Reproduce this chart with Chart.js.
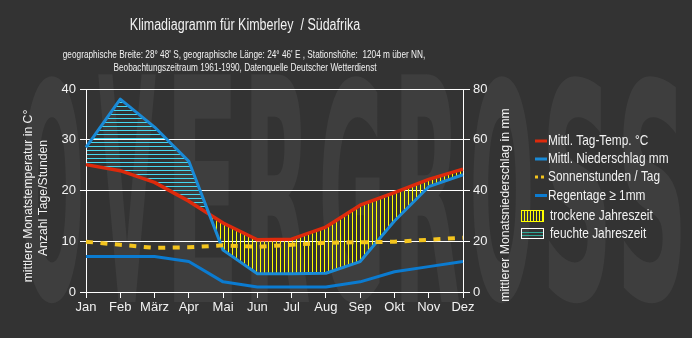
<!DOCTYPE html>
<html lang="de">
<head>
<meta charset="utf-8">
<title>Klimadiagramm Kimberley</title>
<script src="https://cdn.jsdelivr.net/npm/chart.js@4.4.1/dist/chart.umd.min.js"></script>
<style>
    html, body { margin: 0; padding: 0; background: #333333; }
    #wrap { width: 692px; height: 338px; }
</style>
</head>
<body>
<div id="wrap"><canvas id="klima" width="692" height="338"></canvas></div>
<script>
"use strict";

// Monatswerte
const months = ['Jan', 'Feb', 'März', 'Apr', 'Mai', 'Jun', 'Jul', 'Aug', 'Sep', 'Okt', 'Nov', 'Dez'];
const tempC = [25.1, 23.9, 21.6, 17.9, 13.6, 10.3, 10.4, 12.8, 17.1, 19.6, 22.2, 24.2];
const precipMm = [57, 76, 65, 51.5, 16.5, 7.2, 7.2, 7.4, 12, 28, 41.5, 46.2];
const sunHours = [9.9, 9.3, 8.7, 8.8, 9.2, 8.9, 9.3, 9.7, 9.8, 9.9, 10.3, 10.7];
const rainDays = [7, 7, 7, 6, 2, 1, 1, 1, 2, 4, 5, 6];

const leftTicks = [0, 10, 20, 30, 40];
const rightTicks = [0, 20, 40, 60, 80];

const titleText = 'Klimadiagramm für Kimberley  / Südafrika';
const subLines = [
    "geographische Breite: 28° 48' S, geographische Länge: 24° 46' E , Stationshöhe:  1204 m über NN,",
    'Beobachtungszeitraum 1961-1990, Datenquelle Deutscher Wetterdienst'
];
const leftTitle = ['mittlere Monatstemperatur in C°', 'Anzahl Tage/Stunden'];
const rightTitle = 'mittlerer Monatsniederschlag in mm';
const legendItems = [
    { text: 'Mittl. Tag-Temp. °C', color: '#dd2a0c', dash: [] },
    { text: 'Mittl. Niederschlag mm', color: '#1a8ad6', dash: [] },
    { text: 'Sonnenstunden / Tag', color: '#f3c41e', dash: [3, 3] },
    { text: 'Regentage ≥ 1mm', color: '#0b7bd0', dash: [] }
];
const watermark = 'OVERGROSS';

const FONT = '"Liberation Sans", Arial, sans-serif';
const TEXT_COLOR = '#f2f2f2';
const HUMID_COLOR = '#44d8f0';
const DRY_COLOR = '#ffff00';

/**
 * Text mit horizontaler Stauchung zeichnen
 */
function drawText(ctx, text, x, y, size, sx, align, rot) {
    ctx.save();
    ctx.translate(x, y);
    if (rot) ctx.rotate(rot);
    ctx.scale(sx, 1);
    ctx.font = size + 'px ' + FONT;
    ctx.textAlign = align;
    ctx.textBaseline = 'middle';
    ctx.fillStyle = TEXT_COLOR;
    ctx.fillText(text, 0, 0);
    ctx.restore();
}

// Hintergrund und Wasserzeichen
const backgroundPlugin = {
    id: 'background',
    beforeDraw(chart) {
        const ctx = chart.ctx;
        ctx.save();
        ctx.fillStyle = '#333333';
        ctx.fillRect(0, 0, chart.width, chart.height);

        ctx.font = 'bold 100px "DejaVu Sans", sans-serif';
        ctx.fillStyle = '#3e3e3e';
        ctx.textAlign = 'center';
        ctx.textBaseline = 'alphabetic';
        const pitch = 75;
        const boxW = 58;
        const boxH = 228;
        for (let i = 0; i < watermark.length; i++) {
            const ch = watermark[i];
            const m = ctx.measureText(ch);
            const gw = m.actualBoundingBoxLeft + m.actualBoundingBoxRight;
            const gh = m.actualBoundingBoxAscent + m.actualBoundingBoxDescent;
            ctx.save();
            ctx.translate(52 + i * pitch, 302);
            ctx.scale(boxW / gw, boxH / gh);
            ctx.fillText(ch, 0, -m.actualBoundingBoxDescent);
            ctx.restore();
        }
        ctx.restore();
    }
};

// feuchte / trockene Jahreszeit zwischen Temperatur- und Niederschlagskurve schraffieren
const seasonPlugin = {
    id: 'seasons',
    beforeDatasetsDraw(chart) {
        const ctx = chart.ctx;
        const area = chart.chartArea;
        const t = chart.getDatasetMeta(0).data;
        const p = chart.getDatasetMeta(1).data;

        const between = () => {
            ctx.beginPath();
            t.forEach((pt, i) => (i ? ctx.lineTo(pt.x, pt.y) : ctx.moveTo(pt.x, pt.y)));
            for (let i = p.length - 1; i >= 0; i--) ctx.lineTo(p[i].x, p[i].y);
            ctx.closePath();
        };
        const side = (edgeY) => {
            ctx.beginPath();
            t.forEach((pt, i) => (i ? ctx.lineTo(pt.x, pt.y) : ctx.moveTo(pt.x, pt.y)));
            ctx.lineTo(area.right, edgeY);
            ctx.lineTo(area.left, edgeY);
            ctx.closePath();
        };

        // feucht: Niederschlag über Temperatur
        ctx.save();
        between();
        ctx.clip();
        side(area.top);
        ctx.clip();
        ctx.fillStyle = HUMID_COLOR;
        for (let y = Math.floor(area.top) + 1; y < area.bottom; y += 4) {
            ctx.fillRect(area.left + 1, y, area.right - area.left - 2, 1);
        }
        ctx.restore();

        // trocken: Niederschlag unter Temperatur
        ctx.save();
        between();
        ctx.clip();
        side(area.bottom);
        ctx.clip();
        ctx.fillStyle = DRY_COLOR;
        for (let x = Math.floor(area.left) + 2; x < area.right; x += 4) {
            ctx.fillRect(x, area.top, 1, area.bottom - area.top);
        }
        ctx.restore();
    }
};

// Titel, Achsentitel und Legende
const textPlugin = {
    id: 'texts',
    afterDraw(chart) {
        const ctx = chart.ctx;
        drawText(ctx, titleText, 245, 26, 16, 0.78, 'center');
        drawText(ctx, subLines[0], 244, 55, 11, 0.75, 'center');
        drawText(ctx, subLines[1], 245, 68, 11, 0.75, 'center');

        drawText(ctx, leftTitle[0], 28, 196, 13, 0.94, 'center', -Math.PI / 2);
        drawText(ctx, leftTitle[1], 43, 198, 13, 0.94, 'center', -Math.PI / 2);
        drawText(ctx, rightTitle, 505, 205, 13, 0.94, 'center', -Math.PI / 2);

        const rows = [141, 159, 177, 195.5];
        legendItems.forEach((item, i) => {
            ctx.save();
            ctx.strokeStyle = item.color;
            ctx.lineWidth = 3;
            ctx.setLineDash(item.dash);
            ctx.beginPath();
            ctx.moveTo(535, rows[i]);
            ctx.lineTo(547, rows[i]);
            ctx.stroke();
            ctx.restore();
            drawText(ctx, item.text, 548, rows[i], 15, 0.79, 'left');
        });

        // trockene Jahreszeit
        ctx.save();
        ctx.strokeStyle = DRY_COLOR;
        ctx.lineWidth = 1;
        ctx.strokeRect(521.5, 210.5, 22, 11);
        ctx.fillStyle = DRY_COLOR;
        for (let x = 524; x < 543; x += 3) {
            ctx.fillRect(x, 211, 1, 10);
        }
        // feuchte Jahreszeit
        ctx.strokeStyle = '#ffffff';
        ctx.strokeRect(521.5, 228.5, 22, 10);
        ctx.fillStyle = '#2fa898';
        ctx.fillRect(522, 232, 21, 1);
        ctx.fillRect(522, 235, 21, 1);
        ctx.restore();
        drawText(ctx, 'trockene Jahreszeit', 550, 216, 15, 0.79, 'left');
        drawText(ctx, 'feuchte Jahreszeit', 550, 233.5, 15, 0.79, 'left');
    }
};

const tickFont = { family: FONT, size: 13 };

new Chart(document.getElementById('klima').getContext('2d'), {
    type: 'line',
    data: {
        labels: months,
        datasets: [
            {
                label: legendItems[0].text,
                data: tempC,
                yAxisID: 'y',
                borderColor: '#dd2a0c',
                borderWidth: 3.5,
                borderJoinStyle: 'round',
                pointRadius: 0,
                tension: 0,
                fill: false,
                order: 2
            },
            {
                label: legendItems[1].text,
                data: precipMm,
                yAxisID: 'y1',
                borderColor: '#1a8ad6',
                borderWidth: 3,
                borderJoinStyle: 'round',
                pointRadius: 0,
                tension: 0,
                fill: false,
                order: 1
            },
            {
                label: legendItems[2].text,
                data: sunHours,
                yAxisID: 'y',
                borderColor: '#f3c41e',
                borderWidth: 4,
                borderDash: [7, 7.5],
                pointRadius: 0,
                tension: 0,
                fill: false,
                order: 0
            },
            {
                label: legendItems[3].text,
                data: rainDays,
                yAxisID: 'y',
                borderColor: '#0b7bd0',
                borderWidth: 3,
                borderJoinStyle: 'round',
                pointRadius: 0,
                tension: 0,
                fill: false,
                order: 0
            }
        ]
    },
    options: {
        responsive: false,
        animation: false,
        devicePixelRatio: 1,
        layout: { padding: { top: 89, left: 0, right: 0, bottom: 0 } },
        plugins: {
            legend: { display: false },
            title: { display: false },
            tooltip: { enabled: false }
        },
        scales: {
            x: {
                offset: false,
                grid: { display: true, drawOnChartArea: false, drawTicks: true, tickLength: 6, color: '#ffffff' },
                border: { color: '#ffffff', width: 1 },
                ticks: { color: TEXT_COLOR, font: tickFont, padding: 2, maxRotation: 0, autoSkip: false },
                afterFit: (scale) => { scale.height = 46; }
            },
            y: {
                position: 'left',
                min: leftTicks[0],
                max: leftTicks[leftTicks.length - 1],
                afterBuildTicks: (scale) => { scale.ticks = leftTicks.map(v => ({ value: v })); },
                grid: { color: '#ffffff', tickLength: 6 },
                border: { color: '#ffffff', width: 1 },
                ticks: { color: TEXT_COLOR, font: tickFont, padding: 4 },
                afterFit: (scale) => { scale.width = 86; }
            },
            y1: {
                position: 'right',
                min: rightTicks[0],
                max: rightTicks[rightTicks.length - 1],
                afterBuildTicks: (scale) => { scale.ticks = rightTicks.map(v => ({ value: v })); },
                grid: { drawOnChartArea: false, color: '#ffffff', tickLength: 7 },
                border: { color: '#ffffff', width: 1 },
                ticks: { color: TEXT_COLOR, font: tickFont, padding: 3 },
                afterFit: (scale) => { scale.width = 229; }
            }
        }
    },
    plugins: [backgroundPlugin, seasonPlugin, textPlugin]
});
</script>
</body>
</html>
